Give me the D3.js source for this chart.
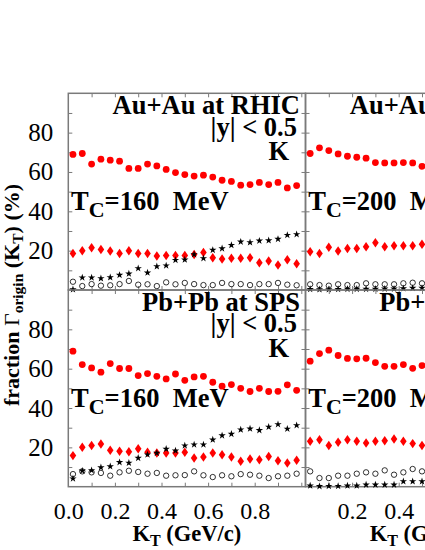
<!DOCTYPE html>
<html><head><meta charset="utf-8">
<script src="https://cdn.jsdelivr.net/npm/d3@7"></script>
<style>body{margin:0;background:#fff} svg{display:block}</style>
</head><body>
<script>
// ---- data ----
const kT = [0.02,0.06,0.10,0.14,0.18,0.22,0.26,0.30,0.34,0.38,0.42,0.46,0.50,0.54,0.58,0.62,0.66,0.70,0.74,0.78,0.82,0.86,0.90,0.94,0.98];

// Au+Au at RHIC, Tc = 160 MeV
const rhic160Dots     = [68.9,69.4,64.0,66.5,66.0,65.5,61.8,61.8,64.0,63.1,61.3,59.7,58.7,57.9,58.4,57.4,55.8,55.2,53.3,53.6,54.7,53.6,54.7,51.9,53.1];
const rhic160Diamonds = [18.6,20.0,21.5,20.6,19.8,18.6,20.0,18.6,18.6,17.3,17.6,17.6,17.6,18.1,19.1,16.4,15.7,16.1,16.1,16.4,13.9,14.7,12.7,15.4,13.4];
const rhic160Stars    = [0.3,6.3,6.3,5.9,6.4,7.6,8.3,11.0,8.8,12.0,12.4,15.2,15.4,18.1,16.1,20.3,21.1,22.8,24.5,24.2,25.0,25.2,25.9,27.9,28.3];
const rhic160Circles  = [4.2,2.0,3.0,2.2,2.4,3.0,4.6,2.7,2.9,2.0,3.9,2.9,3.6,3.0,2.5,2.5,3.6,3.0,3.0,2.5,3.0,3.0,3.6,2.7,2.4];

// Au+Au at RHIC, Tc = 200 MeV (visible part)
const rhic200Dots     = [69.4,72.3,70.9,69.2,68.0,67.5,67.0,64.8,64.6,64.6,64.8,64.6,62.9];
const rhic200Diamonds = [19.5,18.6,21.7,19.8,21.1,21.1,22.0,24.0,22.0,22.5,22.5,22.5,23.2];
const rhic200Stars    = [0.4,0.3,0.3,0.4,0.5,0.5,0.5,0.5,0.6,0.6,0.8,1.0,1.0];
const rhic200Circles  = [2.9,2.5,2.2,2.9,2.5,2.5,3.4,2.9,2.9,2.9,3.4,3.7,3.4];

// Pb+Pb at SPS, Tc = 160 MeV
const sps160Dots      = [68.9,62.1,60.4,58.2,62.6,60.1,60.1,56.5,57.5,56.1,54.8,57.3,54.1,55.8,56.1,53.1,51.1,51.9,50.0,48.4,50.0,48.4,48.5,51.8,49.0];
const sps160Diamonds  = [15.8,20.0,21.0,21.7,18.5,18.0,17.8,19.3,17.5,17.1,17.1,17.1,17.5,14.6,15.1,17.1,16.3,15.1,12.9,14.1,13.7,15.4,13.2,12.1,13.4];
const sps160Stars     = [4.1,8.1,8.3,9.8,10.3,12.4,12.1,14.6,16.3,17.1,19.2,18.3,20.9,21.4,21.4,23.9,26.0,26.8,29.0,29.5,28.7,30.4,31.7,29.4,31.2];
const sps160Circles   = [6.4,7.8,7.3,7.0,5.6,7.3,8.1,7.5,6.6,7.0,5.6,5.8,5.9,7.8,5.8,4.9,5.8,5.3,6.4,6.1,5.6,4.4,5.3,5.6,6.6];

// Pb+Pb at SPS, Tc = 200 MeV (visible part)
const sps200Dots      = [63.8,67.7,69.4,66.7,65.2,65.0,65.3,63.1,61.2,61.2,62.1,60.2,61.6];
const sps200Diamonds  = [23.1,23.9,21.0,22.6,23.9,23.1,22.2,23.1,23.4,24.3,23.1,21.9,21.0];
const sps200Stars     = [0.5,0.2,0.3,0.3,0.5,0.5,1.0,1.0,1.0,1.0,2.7,2.7,2.7];
const sps200Circles   = [7.8,4.4,4.4,5.6,5.6,6.6,7.3,6.6,8.3,6.1,7.3,9.0,7.8];

const yTickLabels = [20,40,60,80];
const yMinorTicks = [10,20,30,40,50,60,70,80,90];
const xMinorTicks = [0.1,0.2,0.3,0.4,0.5,0.6,0.7,0.8,0.9,1.0];
const xTickLabelsLeft  = [0.0,0.2,0.4,0.6,0.8];
const xTickLabelsRight = [0.2,0.4,0.6,0.8];
const systemTitles = ["Au+Au at RHIC","Pb+Pb at SPS"];
const tcValues = ["160","200"];

// ---- layout ----
const W = 425, H = 550;
const colX = [68.3, 305.5], panelW = 237.2;
const rowY = [93.3, 290], panelH = 196.7;
const frameColor = "#7a7a7a";
const FONT = "'Liberation Serif','Times New Roman',serif";

const svg = d3.select("body").append("svg").attr("width", W).attr("height", H)
  .style("font-family", FONT);
svg.append("rect").attr("width", W).attr("height", H).attr("fill", "#fff");

const panels = [
  {row:0,col:0,dots:rhic160Dots,dia:rhic160Diamonds,stars:rhic160Stars,circ:rhic160Circles},
  {row:0,col:1,dots:rhic200Dots,dia:rhic200Diamonds,stars:rhic200Stars,circ:rhic200Circles},
  {row:1,col:0,dots:sps160Dots,dia:sps160Diamonds,stars:sps160Stars,circ:sps160Circles},
  {row:1,col:1,dots:sps200Dots,dia:sps200Diamonds,stars:sps200Stars,circ:sps200Circles},
];

const diamondPath = d3.symbol().type(d3.symbolDiamond).size(26)();
const starPath = d3.symbol().type(d3.symbolStar).size(17)();

panels.forEach(p => {
  const x0 = colX[p.col], y0 = rowY[p.row];
  const x = d3.scaleLinear().domain([0, panelW/233]).range([x0, x0 + panelW]);
  const y = d3.scaleLinear().domain([0, 100]).range([y0 + panelH, y0]);
  const g = svg.append("g");

  // minor ticks on all four sides, pointing inward
  const tickStyle = sel => {
    sel.selectAll("path.domain").remove();
    sel.selectAll("line").attr("stroke", frameColor).attr("stroke-width", 1);
    sel.selectAll("text").remove();
  };
  g.append("g").attr("transform", `translate(${x0},0)`)
    .call(d3.axisLeft(y).tickValues(yMinorTicks).tickSize(-4)).call(tickStyle);
  g.append("g").attr("transform", `translate(${x0+panelW},0)`)
    .call(d3.axisRight(y).tickValues(yMinorTicks).tickSize(-4)).call(tickStyle);
  g.append("g").attr("transform", `translate(0,${y0+panelH})`)
    .call(d3.axisBottom(x).tickValues(xMinorTicks).tickSize(-4)).call(tickStyle);
  g.append("g").attr("transform", `translate(0,${y0})`)
    .call(d3.axisTop(x).tickValues(xMinorTicks).tickSize(-4)).call(tickStyle);

  // frame
  g.append("rect").attr("x", x0).attr("y", y0).attr("width", panelW).attr("height", panelH)
    .attr("fill", "none").attr("stroke", frameColor).attr("stroke-width", 1.5);

  // tick labels
  if (p.col === 0) {
    const ax = g.append("g").attr("transform", `translate(${x0},0)`)
      .call(d3.axisLeft(y).tickValues(yTickLabels).tickSize(0).tickPadding(15));
    ax.select("path.domain").remove();
    ax.selectAll("text").attr("font-family", FONT).attr("font-size", 25).attr("fill", "#000");
  }
  if (p.row === 1) {
    const labels = p.col === 0 ? xTickLabelsLeft : xTickLabelsRight;
    const ax = g.append("g").attr("transform", `translate(0,${y0+panelH})`)
      .call(d3.axisBottom(x).tickValues(labels).tickSize(0).tickPadding(15).tickFormat(d3.format(".1f")));
    ax.select("path.domain").remove();
    ax.selectAll("text").attr("font-family", FONT).attr("font-size", 24).attr("fill", "#000");

    const t = g.append("text").attr("x", x0 + panelW/2).attr("y", 541)
      .attr("text-anchor", "middle").attr("font-weight", "bold").attr("font-size", 22.5);
    t.append("tspan").text("K");
    t.append("tspan").attr("dy", 5).attr("font-size", 16).text("T");
    t.append("tspan").attr("dy", -5).text(" (GeV/c)");
  }

  // panel labels
  const right = x0 + 231.7;
  const txt = (s, xx, yy, anchor) => g.append("text").attr("x", xx).attr("y", yy)
    .attr("text-anchor", anchor).attr("font-weight", "bold").attr("font-size", 26.5).text(s);
  txt(systemTitles[p.row], right, y0 + 20.5, "end");
  txt("|y| < 0.5", right - 3, y0 + 42.3, "end");
  txt("K", right - 11, y0 + 66.7, "end");
  const tc = g.append("text").attr("x", x0 + 2.7).attr("y", y0 + 116.7)
    .attr("font-weight", "bold").attr("font-size", 26.5);
  tc.append("tspan").text("T");
  tc.append("tspan").attr("dy", 7).attr("font-size", 22).text("C");
  tc.append("tspan").attr("dy", -7).text("=" + tcValues[p.col] + "\u00a0\u00a0MeV");

  // markers
  const kx = i => x(kT[i]);
  g.selectAll("circle.dot").data(p.dots).join("circle").attr("class","dot")
    .attr("cx", (d,i) => kx(i)).attr("cy", d => y(d)).attr("r", 3.4).attr("fill", "#ff0000");
  g.selectAll("path.dia").data(p.dia).join("path").attr("class","dia")
    .attr("d", diamondPath).attr("fill", "#ff0000")
    .attr("transform", (d,i) => `translate(${kx(i)},${y(d)}) scale(1.2,1)`);
  g.selectAll("circle.open").data(p.circ).join("circle").attr("class","open")
    .attr("cx", (d,i) => kx(i)).attr("cy", d => y(d)).attr("r", 2.7)
    .attr("fill", "none").attr("stroke", "#000").attr("stroke-width", 0.8);
  g.selectAll("path.star").data(p.stars).join("path").attr("class","star")
    .attr("d", starPath).attr("fill", "#000")
    .attr("transform", (d,i) => `translate(${kx(i)},${y(d)})`);
});

// y-axis title
const yt = svg.append("text").attr("transform", "translate(18.5,295) rotate(-90)")
  .attr("text-anchor", "middle").attr("font-weight", "bold").attr("font-size", 22);
yt.append("tspan").text("fraction ");
yt.append("tspan").attr("font-weight", "normal").text("\u0393");
yt.append("tspan").attr("dy", 4).attr("font-size", 15.5).text("origin");
yt.append("tspan").attr("dy", -4).text(" (K");
yt.append("tspan").attr("dy", 4).attr("font-size", 15.5).text("T");
yt.append("tspan").attr("dy", -4).text(") (%)");
</script>
</body></html>
